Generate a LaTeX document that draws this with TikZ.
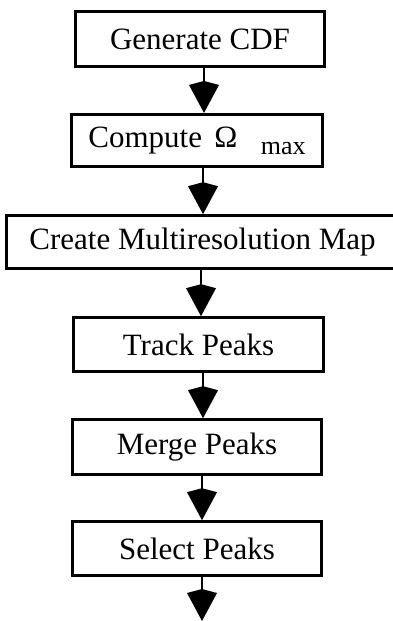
\documentclass[tikz,border=0pt]{standalone}
\usepackage{fontspec}
\setmainfont{Liberation Serif}
\usetikzlibrary{arrows.meta}
\begin{document}
\begin{tikzpicture}[x=1pt,y=-1pt,
  stepbox/.style={draw, line width=2.6pt, inner sep=0pt,
    font=\fontsize{31}{37}\selectfont},
  flow/.style={line width=2.2pt,
    -{Kite[length=32pt,width=30pt,inset=4pt]}}]
\useasboundingbox (0,0) rectangle (393,621);
\clip (0,0) rectangle (393,621);

% processing steps
\node[stepbox, minimum width=249pt, minimum height=55pt] (gen) at (200,39) {Generate CDF};
\node[stepbox, minimum width=251pt, minimum height=52.5pt] (cmp) at (197,140.5)
  {Compute\hspace{0.4em}Ω\hspace{0.75em}\raisebox{-7pt}{\fontsize{26}{30}\selectfont max}};
\node[stepbox, minimum width=392pt, minimum height=53pt] (map) at (202.5,242) {Create Multiresolution Map};
\node[stepbox, minimum width=250pt, minimum height=54pt] (trk) at (198.5,344.5) {Track Peaks};
\node[stepbox, minimum width=249pt, minimum height=55pt] (mrg) at (197,447) {Merge Peaks};
\node[stepbox, minimum width=249pt, minimum height=54pt] (sel) at (197,548.5) {Select Peaks};

% columns of the connectors and the open end below the last step
\coordinate (c1) at (204,0);
\coordinate (c2) at (203,0);
\coordinate (c3) at (201,0);
\coordinate (c4) at (203,0);
\coordinate (c5) at (202,0);
\coordinate (c6) at (202,0);
\coordinate (out) at (202,621);

% connectors
\draw[flow] (gen.south -| c1) -- (cmp.north -| c1);
\draw[flow] (cmp.south -| c2) -- (map.north -| c2);
\draw[flow] (map.south -| c3) -- (trk.north -| c3);
\draw[flow] (trk.south -| c4) -- (mrg.north -| c4);
\draw[flow] (mrg.south -| c5) -- (sel.north -| c5);
\draw[flow] (sel.south -| c6) -- (out);
\end{tikzpicture}
\end{document}
